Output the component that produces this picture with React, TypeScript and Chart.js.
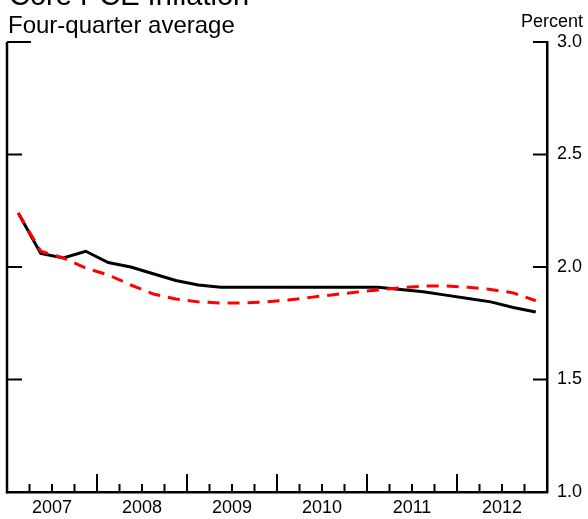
import { useEffect, useRef } from "react"
import { Chart, registerables } from "chart.js"

Chart.register(...registerables)

// Quarterly, 2007:Q1 - 2012:Q4
const years = ["2007", "2008", "2009", "2010", "2011", "2012"]
const coreInflation = [
  2.24, 2.06, 2.04, 2.07, 2.02, 2.0, 1.97, 1.94, 1.92, 1.91, 1.91, 1.91,
  1.91, 1.91, 1.91, 1.91, 1.91, 1.9, 1.89, 1.875, 1.86, 1.845, 1.82, 1.8,
]
const projection = [
  2.24, 2.07, 2.04, 1.995, 1.965, 1.92, 1.88, 1.858, 1.845, 1.84, 1.84, 1.845,
  1.853, 1.865, 1.877, 1.888, 1.898, 1.908, 1.915, 1.916, 1.91, 1.9, 1.885, 1.85,
]
const yTicks = [1.0, 1.5, 2.0, 2.5, 3.0]

const FONT = "'Liberation Sans', Arial, Helvetica, sans-serif"

// axis lines, inward tick marks and the text around the plot
const framePlugin = {
  id: "frame",
  afterDatasetsDraw(chart: any) {
    const { ctx, chartArea, scales } = chart
    const { left, right, top, bottom } = chartArea
    ctx.save()
    ctx.strokeStyle = "#000"
    ctx.lineCap = "butt"

    // left axis line
    ctx.lineWidth = 2.5
    ctx.beginPath()
    ctx.moveTo(left, top)
    ctx.lineTo(left, bottom + 1.25)
    ctx.stroke()

    // y ticks on both sides
    ctx.lineWidth = 2
    yTicks.forEach((v) => {
      if (v === 1.0) return
      const y = scales.y.getPixelForValue(v)
      const lenLeft = v === 3.0 ? 24 : 15
      ctx.beginPath()
      ctx.moveTo(left, y)
      ctx.lineTo(left + lenLeft, y)
      ctx.moveTo(right - 14, y)
      ctx.lineTo(right, y)
      ctx.stroke()
    })

    // quarter ticks, taller at year boundaries
    for (let q = 1; q < years.length * 4; q++) {
      const x = scales.x.getPixelForValue(q)
      const len = q % 4 === 0 ? 18 : 8
      ctx.beginPath()
      ctx.moveTo(x, bottom)
      ctx.lineTo(x, bottom - len)
      ctx.stroke()
    }
    ctx.restore()
  },
  afterDraw(chart: any) {
    const { ctx } = chart
    ctx.save()
    ctx.fillStyle = "#000"
    ctx.textBaseline = "alphabetic"
    ctx.textAlign = "left"
    ctx.font = `29px ${FONT}`
    ctx.fillText("Core PCE Inflation", 9, 5)
    ctx.font = `24px ${FONT}`
    ctx.fillText("Four-quarter average", 8, 33)
    ctx.textAlign = "right"
    ctx.font = `18px ${FONT}`
    ctx.fillText("Percent", 583, 27)
    ctx.restore()
  },
}

export default function App() {
  const canvasRef = useRef<HTMLCanvasElement>(null)
  const chartRef = useRef<Chart | null>(null)

  useEffect(() => {
    if (!canvasRef.current) return
    if (chartRef.current) chartRef.current.destroy()

    chartRef.current = new Chart(canvasRef.current, {
      type: "line",
      data: {
        datasets: [
          {
            label: "Projection",
            data: projection.map((v, i) => ({ x: i + 0.5, y: v })),
            borderColor: "#ff0000",
            borderWidth: 3,
            borderDash: [12, 8],
            pointRadius: 0,
            tension: 0,
            order: 0,
          },
          {
            label: "Core PCE",
            data: coreInflation.map((v, i) => ({ x: i + 0.5, y: v })),
            borderColor: "#000000",
            borderWidth: 3,
            pointRadius: 0,
            tension: 0,
            order: 1,
          },
        ],
      },
      options: {
        responsive: true,
        maintainAspectRatio: false,
        animation: false,
        layout: { padding: { top: 42, left: 7, right: 0, bottom: 0 } },
        plugins: {
          legend: { display: false },
          tooltip: { enabled: false },
        },
        scales: {
          x: {
            type: "linear",
            position: "bottom",
            min: 0,
            max: years.length * 4,
            afterBuildTicks: (scale: any) => {
              scale.ticks = years.map((_, i) => ({ value: i * 4 + 2 }))
            },
            afterFit: (scale: any) => {
              scale.height = 27
            },
            ticks: {
              autoSkip: false,
              maxRotation: 0,
              padding: 5,
              color: "#000",
              font: { family: FONT, size: 18 },
              callback: (value: any) => years[Math.round((Number(value) - 2) / 4)] ?? "",
            },
            grid: { display: false, drawTicks: false },
            border: { display: true, color: "#000", width: 2.5 },
          },
          y: {
            position: "right",
            min: 1,
            max: 3,
            afterBuildTicks: (scale: any) => {
              scale.ticks = yTicks.map((v) => ({ value: v }))
            },
            afterFit: (scale: any) => {
              scale.width = 41
            },
            ticks: {
              padding: 10,
              color: "#000",
              font: { family: FONT, size: 18 },
              callback: (value: any) => Number(value).toFixed(1),
            },
            grid: { display: false, drawTicks: false },
            border: { display: true, color: "#000", width: 2.5 },
          },
        },
      },
      plugins: [framePlugin],
    })

    return () => {
      if (chartRef.current) {
        chartRef.current.destroy()
        chartRef.current = null
      }
    }
  }, [])

  return (
    <div style={{ position: "absolute", left: 0, top: 0, width: 588, height: 519 }}>
      <canvas ref={canvasRef}></canvas>
    </div>
  )
}
